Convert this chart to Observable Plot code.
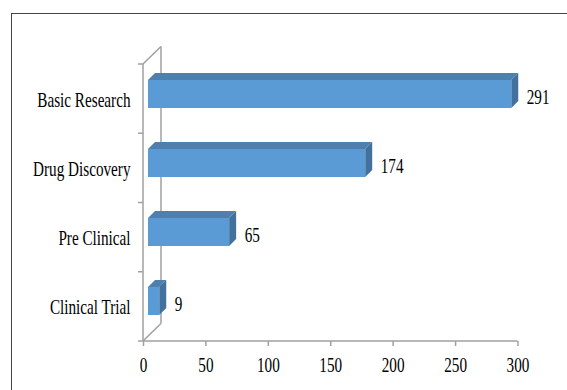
<!DOCTYPE html>
<html>
<head>
<meta charset="utf-8">
<script src="https://cdn.jsdelivr.net/npm/d3@7"></script>
<script src="https://cdn.jsdelivr.net/npm/@observablehq/plot@0.6"></script>
<style>
  html, body { margin: 0; padding: 0; background: #fff; }
  #wrap { position: relative; width: 567px; height: 390px; overflow: hidden; }
  #frame { position: absolute; left: 11px; top: 13px; width: 600px; height: 420px;
           border-left: 1.5px solid #444; border-top: 1.5px solid #444; box-sizing: border-box; }
  svg { display: block; position: absolute; left: 0; top: 0; }
</style>
</head>
<body>
<div id="wrap"><div id="frame"></div></div>
<script>
const categories = ["Basic Research", "Drug Discovery", "Pre Clinical", "Clinical Trial"];
const values = [291, 174, 65, 9];
const xTicks = [0, 50, 100, 150, 200, 250, 300];

const data = categories.map((c, i) => ({category: c, value: values[i]}));

const FRONT = "#5b9bd5", TOP = "#4f80ad", SIDE = "#41719c", AXIS = "#a0a0a0";
const WALL_DX = 18, WALL_DY = 17.5;   // 3D depth of back wall
const BAR_OFF = 5, BAR_DEPTH = 7, BAR_H = 28, BAR_SHIFT = -5.5;
const FS = 15.2;

const wallMark = Plot.ruleX([0], {
  render(index, scales, values, dims) {
    const {x, y} = scales;
    const x0 = x(0), x1 = x(300);
    const top = dims.marginTop, bottom = dims.height - dims.marginBottom;
    const n = categories.length, step = (bottom - top) / n;
    const g = d3.create("svg:g").attr("fill", "none").attr("stroke", AXIS).attr("stroke-width", 1.5);
    const line = (a, b, c, d) => g.append("line").attr("x1", a).attr("y1", b).attr("x2", c).attr("y2", d);
    // back wall
    line(x0 + WALL_DX, top - WALL_DY, x0 + WALL_DX, bottom - WALL_DY);
    line(x0, top, x0 + WALL_DX, top - WALL_DY);
    line(x0, bottom, x0 + WALL_DX, bottom - WALL_DY);
    // front vertical axis
    line(x0, top, x0, bottom);
    // category ticks at band boundaries
    for (let k = 0; k <= n; ++k) line(x0 - 5, top + k * step, x0, top + k * step);
    // x axis line
    line(x0, bottom, x1, bottom);
    return g.node();
  }
});

const barMark = Plot.barX(data, {
  x: "value", y: "category",
  render(index, scales) {
    const {x, y} = scales;
    const g = d3.create("svg:g");
    for (const i of index) {
      const d = data[i];
      const xa = x(0) + BAR_OFF, xb = x(d.value) + BAR_OFF;
      const yc = y(d.category) + y.bandwidth() / 2 + BAR_SHIFT;
      const yt = yc - BAR_H / 2, yb = yc + BAR_H / 2, k = BAR_DEPTH;
      g.append("polygon").attr("fill", TOP)
        .attr("points", [[xa, yt], [xa + k, yt - k], [xb + k, yt - k], [xb, yt]].join(" "));
      g.append("polygon").attr("fill", SIDE)
        .attr("points", [[xb, yt], [xb + k, yt - k], [xb + k, yb - k], [xb, yb]].join(" "));
      g.append("rect").attr("fill", FRONT)
        .attr("x", xa).attr("y", yt).attr("width", xb - xa).attr("height", BAR_H);
    }
    return g.node();
  }
});

const chart = Plot.plot({
  width: 567,
  height: 390,
  marginLeft: 143,
  marginRight: 49.5,
  marginTop: 64,
  marginBottom: 49,
  x: {domain: [0, 300]},
  y: {type: "band", domain: categories, padding: 0},
  style: {fontFamily: "'Liberation Serif', 'Times New Roman', serif", fontSize: FS + "px", color: "#000", background: "transparent"},
  marks: [
    wallMark,
    barMark,
    Plot.text(data, {x: "value", y: "category", text: d => String(d.value), textAnchor: "start", dx: 20, dy: -3, fill: "#000", fontSize: FS}),
    Plot.axisY({tickSize: 0, tickPadding: 13, fontSize: FS, fill: "#000", label: null}),
    Plot.axisX({ticks: xTicks, tickSize: 5, tickPadding: 11, stroke: AXIS, strokeWidth: 1.5, fontSize: FS, fill: "#000", label: null})
  ]
});

// the reference text is vertically stretched
chart.querySelectorAll("text").forEach(t => {
  const tr = t.getAttribute("transform") || "";
  t.setAttribute("transform", (tr + " scale(1,1.38)").trim());
});

document.getElementById("wrap").appendChild(chart);
</script>
</body>
</html>
